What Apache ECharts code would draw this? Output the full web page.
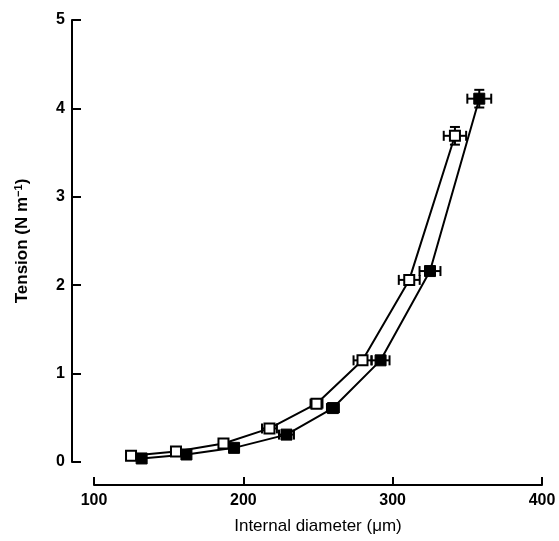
<!DOCTYPE html>
<html>
<head>
<meta charset="utf-8">
<script src="https://cdn.jsdelivr.net/npm/echarts@6/dist/echarts.min.js"></script>
<style>
  html, body { margin: 0; padding: 0; background: #fff; }
  #chart { width: 559px; height: 541px; }
</style>
</head>
<body>
<div id="chart"></div>
<script>
// open squares
const openDiam = [124.8, 154.9, 186.7, 217.5, 249.0, 279.8, 311.1, 341.7];
const openTension = [0.07, 0.12, 0.21, 0.38, 0.66, 1.15, 2.06, 3.69];
const openDiamErr = [0, 2, 3, 5, 4, 6, 7, 7.5];
const openTensionErr = [0, 0, 0, 0, 0, 0, 0, 0.1];

// filled squares
const filledDiam = [131.9, 161.9, 193.8, 228.9, 260.0, 291.9, 325.0, 358.0];
const filledTension = [0.04, 0.085, 0.16, 0.31, 0.61, 1.15, 2.16, 4.11];
const filledDiamErr = [0, 2, 3, 5, 4, 6, 7, 8];
const filledTensionErr = [0, 0, 0, 0, 0, 0, 0, 0.1];

const xTicks = [100, 200, 300, 400];
const yTicks = [0, 1, 2, 3, 4, 5];

const chart = echarts.init(document.getElementById("chart"));

function pairs(xs, ys) {
  return xs.map((x, i) => [x, ys[i]]);
}

function errData(xs, ys, xe, ye) {
  return xs.map((x, i) => [x, ys[i], xe[i], ye[i]]);
}

// draws horizontal / vertical error bars with caps
function renderErr(params, api) {
  const x = api.value(0);
  const y = api.value(1);
  const xe = api.value(2);
  const ye = api.value(3);
  const cap = 5;
  const style = { stroke: "#000", lineWidth: 2 };
  const children = [];
  if (xe > 0) {
    const a = api.coord([x - xe, y]);
    const b = api.coord([x + xe, y]);
    children.push({ type: "line", shape: { x1: a[0], y1: a[1], x2: b[0], y2: b[1] }, style });
    children.push({ type: "line", shape: { x1: a[0], y1: a[1] - cap, x2: a[0], y2: a[1] + cap }, style });
    children.push({ type: "line", shape: { x1: b[0], y1: b[1] - cap, x2: b[0], y2: b[1] + cap }, style });
  }
  if (ye > 0) {
    const a = api.coord([x, y - ye]);
    const b = api.coord([x, y + ye]);
    children.push({ type: "line", shape: { x1: a[0], y1: a[1], x2: b[0], y2: b[1] }, style });
    children.push({ type: "line", shape: { x1: a[0] - cap, y1: a[1], x2: a[0] + cap, y2: a[1] }, style });
    children.push({ type: "line", shape: { x1: b[0] - cap, y1: b[1], x2: b[0] + cap, y2: b[1] }, style });
  }
  return { type: "group", children };
}

const option = {
  backgroundColor: "#fff",
  animation: false,
  grid: { left: 94, right: 17, top: 20, bottom: 79 },
  xAxis: {
    type: "value",
    min: 100,
    max: 400,
    interval: 100,
    offset: 23,
    axisLine: { onZero: false, lineStyle: { color: "#000", width: 2 } },
    axisTick: { inside: true, length: 8, lineStyle: { color: "#000", width: 2 } },
    splitLine: { show: false },
    axisLabel: {
      color: "#000",
      fontFamily: "Liberation Sans",
      fontSize: 16,
      fontWeight: "bold",
      margin: 8,
      formatter: (v) => (xTicks.includes(v) ? String(v) : ""),
    },
    name: "Internal diameter (\u03bcm)",
    nameLocation: "middle",
    nameGap: 33,
    nameTextStyle: { color: "#000", fontFamily: "Liberation Sans", fontSize: 17 },
  },
  yAxis: {
    type: "value",
    min: 0,
    max: 5,
    interval: 1,
    offset: 22,
    axisLine: { show: true, onZero: false, lineStyle: { color: "#000", width: 2 } },
    axisTick: { show: true, inside: true, length: 9, lineStyle: { color: "#000", width: 2 } },
    splitLine: { show: false },
    axisLabel: {
      color: "#000",
      fontFamily: "Liberation Sans",
      fontSize: 16,
      fontWeight: "bold",
      margin: 7,
      formatter: (v) => (yTicks.includes(v) ? String(v) : ""),
    },
    name: "Tension (N m{sup|\u22121})",
    nameLocation: "middle",
    nameGap: 40,
    nameTextStyle: {
      color: "#000",
      fontFamily: "Liberation Sans",
      fontSize: 17,
      fontWeight: "bold",
      rich: {
        sup: { fontSize: 11, fontWeight: "bold", fontFamily: "Liberation Sans", color: "#000", verticalAlign: "top", padding: [0, 0, 8, 0] },
      },
    },
  },
  series: [
    {
      type: "custom",
      renderItem: renderErr,
      data: errData(openDiam, openTension, openDiamErr, openTensionErr),
      z: 1,
      silent: true,
    },
    {
      type: "custom",
      renderItem: renderErr,
      data: errData(filledDiam, filledTension, filledDiamErr, filledTensionErr),
      z: 1,
      silent: true,
    },
    {
      type: "line",
      data: pairs(openDiam, openTension),
      symbol: "rect",
      symbolSize: 10,
      showAllSymbol: true,
      lineStyle: { color: "#000", width: 2 },
      itemStyle: { color: "#fff", borderColor: "#000", borderWidth: 2 },
      z: 3,
    },
    {
      type: "line",
      data: pairs(filledDiam, filledTension),
      symbol: "rect",
      symbolSize: 11,
      showAllSymbol: true,
      lineStyle: { color: "#000", width: 2 },
      itemStyle: { color: "#000", borderColor: "#000", borderWidth: 1 },
      z: 2,
    },
  ],
};

chart.setOption(option);
</script>
</body>
</html>
